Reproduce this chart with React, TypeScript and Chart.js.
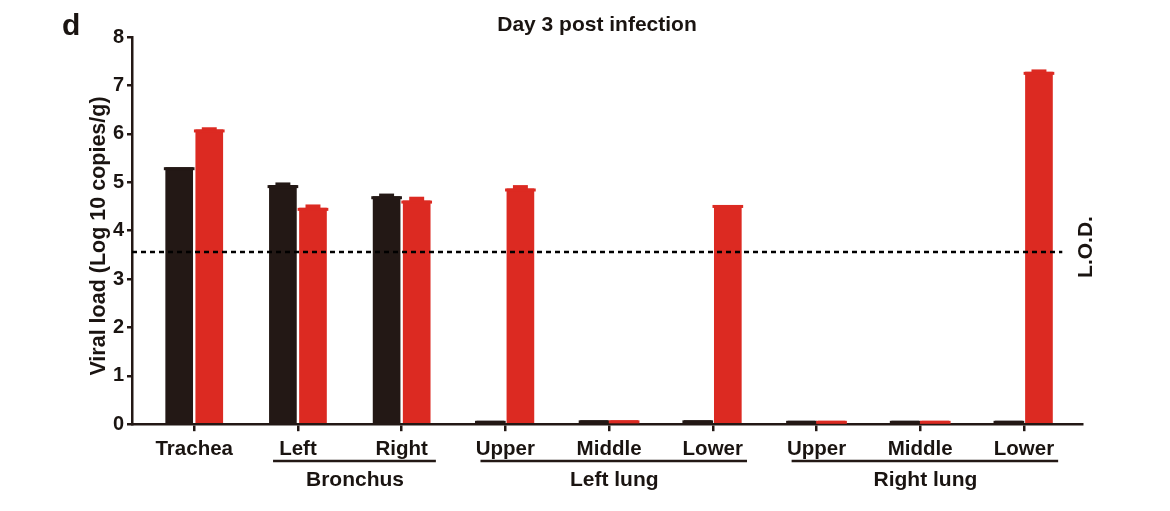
import { useEffect, useRef } from 'react';
import { Chart, registerables } from 'chart.js';

Chart.register(...registerables);

const categories = ['Trachea', 'Left', 'Right', 'Upper', 'Middle', 'Lower', 'Upper', 'Middle', 'Lower'];
const seriesA = [5.31, 4.94, 4.71, 0.07, 0.08, 0.08, 0.07, 0.07, 0.07];
const seriesAErr = [0, 0.055, 0.055, 0, 0, 0, 0, 0, 0];
const seriesB = [6.09, 4.47, 4.62, 4.87, 0.08, 4.53, 0.07, 0.07, 7.28];
const seriesBErr = [0.045, 0.07, 0.08, 0.07, 0, 0, 0, 0, 0.05];
const yTickValues = [0, 1, 2, 3, 4, 5, 6, 7, 8];
const groupLabels = ['Bronchus', 'Left lung', 'Right lung'];
const groupFirst = [1, 3, 6];
const groupLast = [2, 5, 8];
const lodValue = 3.56;
const titleText = 'Day 3 post infection';
const panelText = 'd';
const yTitleText = 'Viral load (Log 10 copies/g)';
const lodText = 'L.O.D.';

const BLACK = '#231815';
const RED = '#dc2a22';
const TEXT = '#1a1411';
const FONT = '"Liberation Sans", Arial, Helvetica, sans-serif';

export default function App() {
  const ref = useRef<HTMLCanvasElement | null>(null);

  useEffect(() => {
    if (!ref.current) return;
    const errs = [seriesAErr, seriesBErr];

    const decor = {
      id: 'decor',
      afterDatasetsDraw(chart: any) {
        const ctx = chart.ctx;
        const ys = chart.scales.y;
        ctx.save();
        chart.data.datasets.forEach((ds: any, di: number) => {
          const meta = chart.getDatasetMeta(di);
          meta.data.forEach((bar: any, i: number) => {
            const p = bar.getProps(['x', 'y', 'width'], true);
            ctx.fillStyle = ds.backgroundColor;
            ctx.fillRect(p.x - p.width / 2 - 1.5, p.y, p.width + 3, 3);
            const e = errs[di][i];
            if (e > 0) {
              const ye = ys.getPixelForValue(ds.data[i].y + e);
              ctx.fillRect(p.x - p.width * 0.27, ye, p.width * 0.54, p.y - ye + 1);
            }
          });
        });
        ctx.restore();
      },
      afterDraw(chart: any) {
        const ctx = chart.ctx;
        const xs = chart.scales.x;
        const ys = chart.scales.y;
        ctx.save();
        // LOD dotted line
        const yl = ys.getPixelForValue(lodValue);
        ctx.strokeStyle = '#000';
        ctx.lineWidth = 2.5;
        ctx.setLineDash([5, 4]);
        ctx.beginPath();
        ctx.moveTo(xs.getPixelForValue(xs.min), yl);
        ctx.lineTo(xs.getPixelForValue(8.37), yl);
        ctx.stroke();
        ctx.setLineDash([]);

        ctx.fillStyle = TEXT;
        // title
        ctx.font = `bold 21px ${FONT}`;
        ctx.textAlign = 'center';
        ctx.textBaseline = 'alphabetic';
        ctx.fillText(titleText, 597, 30.5);
        // panel label
        ctx.font = `bold 30px ${FONT}`;
        ctx.textAlign = 'left';
        ctx.fillText(panelText, 62, 35);
        // y title
        ctx.save();
        ctx.translate(105, 236);
        ctx.rotate(-Math.PI / 2);
        ctx.font = `bold 21.5px ${FONT}`;
        ctx.textAlign = 'center';
        ctx.fillText(yTitleText, 0, 0);
        ctx.restore();
        // LOD label
        ctx.save();
        ctx.translate(1092, 247);
        ctx.rotate(-Math.PI / 2);
        ctx.font = `bold 21px ${FONT}`;
        ctx.textAlign = 'center';
        ctx.fillText(lodText, 0, 0);
        ctx.restore();
        // group underlines and labels
        ctx.strokeStyle = BLACK;
        ctx.lineWidth = 2.5;
        groupLabels.forEach((g, k) => {
          const x0 = xs.getPixelForValue(groupFirst[k] - 0.24);
          const x1 = xs.getPixelForValue(groupLast[k] + 0.33);
          ctx.beginPath();
          ctx.moveTo(x0, 461);
          ctx.lineTo(x1, 461);
          ctx.stroke();
          ctx.font = `bold 21px ${FONT}`;
          ctx.textAlign = 'center';
          const xc = xs.getPixelForValue((groupFirst[k] + groupLast[k]) / 2 + 0.05);
          ctx.fillText(g, xc, 486);
        });
        ctx.restore();
      },
    };

    const chart = new Chart(ref.current, {
      type: 'bar',
      data: {
        datasets: [
          {
            data: seriesA.map((v, i) => ({ x: i, y: v })),
            backgroundColor: BLACK,
            borderWidth: 0,
          },
          {
            data: seriesB.map((v, i) => ({ x: i, y: v })),
            backgroundColor: RED,
            borderWidth: 0,
          },
        ],
      },
      options: {
        responsive: false,
        animation: false,
        layout: { padding: { left: 0, right: 88, top: 37, bottom: 0 } },
        plugins: { legend: { display: false }, tooltip: { enabled: false }, title: { display: false } },
        datasets: { bar: { categoryPercentage: 0.58, barPercentage: 0.92 } },
        scales: {
          x: {
            type: 'linear',
            offset: false,
            min: -0.6,
            max: 8.56,
            afterFit(scale: any) {
              scale.height = 511 - 424.2;
            },
            ticks: {
              stepSize: 1,
              includeBounds: false,
              autoSkip: false,
              maxRotation: 0,
              padding: 6,
              color: TEXT,
              font: { family: FONT, size: 20.5, weight: 'bold' },
              callback: (v: any) => (Number.isInteger(v) ? categories[v] ?? '' : ''),
            },
            grid: { offset: false, drawOnChartArea: false, color: BLACK, lineWidth: 2.5, tickLength: 7 },
            border: { display: true, color: BLACK, width: 2.5 },
          },
          y: {
            min: 0,
            max: 8,
            afterFit(scale: any) {
              scale.width = 132;
            },
            afterBuildTicks(scale: any) {
              scale.ticks = yTickValues.map((v) => ({ value: v }));
            },
            ticks: {
              padding: 3,
              color: TEXT,
              font: { family: FONT, size: 20, weight: 'bold' },
            },
            grid: { drawOnChartArea: false, color: BLACK, lineWidth: 2.5, tickLength: 5 },
            border: { display: true, color: BLACK, width: 2.5 },
          },
        },
      },
      plugins: [decor],
    } as any);
    return () => chart.destroy();
  }, []);

  return (
    <div style={{ position: 'fixed', left: 0, top: 0, width: 1170, height: 511, background: '#fff' }}>
      <canvas ref={ref} width={1170} height={511} />
    </div>
  );
}
